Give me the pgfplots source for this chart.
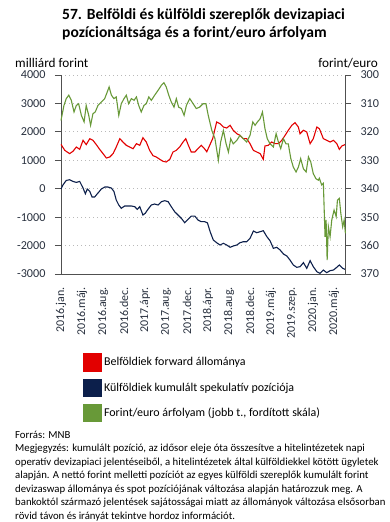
\documentclass[border=0pt]{standalone}
\usepackage{fontspec}
\setmainfont{Carlito}
\usepackage{pgfplots}
\pgfplotsset{compat=1.18}
\definecolor{myred}{RGB}{226,0,0}
\definecolor{mynavy}{RGB}{12,31,75}
\definecolor{mygreen}{RGB}{104,153,56}
\definecolor{tickc}{RGB}{40,48,62}
\definecolor{axc}{RGB}{80,80,80}
\definecolor{gridc}{RGB}{185,185,185}
\begin{document}
\begin{tikzpicture}
\path[use as bounding box] (0,0) rectangle (390bp,-522bp);
\node[anchor=base west, inner sep=0pt, font=\bfseries\fontsize{15.6}{18}\selectfont] at (62bp,-19bp) {57. Belföldi és külföldi szereplők devizapiaci};
\node[anchor=base west, inner sep=0pt, font=\bfseries\fontsize{15.6}{18}\selectfont] at (62bp,-37bp) {pozícionáltsága és a forint/euro árfolyam};
\node[anchor=base west, inner sep=0pt, font=\fontsize{13.3}{15}\selectfont] at (15bp,-67bp) {milliárd forint};
\node[anchor=base east, inner sep=0pt, font=\fontsize{13.3}{15}\selectfont] at (378bp,-67bp) {forint/euro};

\begin{axis}[
  at={(61bp,-274bp)}, anchor=south west, scale only axis,
  width=284bp, height=199bp,
  xmin=0, xmax=13.52, ymin=-3000, ymax=4000,
  axis y line*=left, axis x line*=bottom,
  axis line style={draw=axc, line width=1bp, -},
  ytick={-3000,-2000,-1000,0,1000,2000,3000,4000},
  yticklabels={-3000,-2000,-1000,0,1000,2000,3000,4000},
  yticklabel style={font=\fontsize{12.2}{14}\selectfont, color=tickc, xshift=-6bp},
  ytick style={draw=axc, line width=0.8bp},
  tick align=outside, major tick length=6bp,
  xtick={0,1,2,3,4,5,6,7,8,9,10,11,12,13},
  xticklabels={2016.jan.,2016.máj.,2016.aug.,2016.dec.,2017.ápr.,2017.aug.,2017.dec.,2018.ápr.,2018.aug.,2018.dec.,2019.máj.,2019.szep.,2020.jan.,2020.máj.},
  xtick style={draw=none},
  xticklabel style={rotate=90, anchor=east, font=\fontsize{12}{14}\selectfont, color=tickc, inner xsep=7bp},
  ymajorgrids, grid style={gridc, dash pattern=on 1bp off 3bp, line width=0.9bp},
  clip=false,
  legend style={at={(axis description cs:0.0775,-0.397)}, anchor=north west, draw=none, fill=none, inner sep=0pt, outer sep=0pt, font=\fontsize{12}{14}\selectfont, row sep=7bp, /tikz/every even column/.append style={column sep=0pt}},
  legend cell align=left,
  legend image code/.code={\fill[#1] (0bp,-8.7bp) rectangle (18bp,8.7bp);},
]
\addplot[myred, line width=1.1bp] coordinates {
(0,1560)(0.18,1350)(0.41,1235)(0.57,1316)(0.73,1467)(0.89,1386)(1.05,1703)(1.20,1552)(1.37,1760)(1.52,1703)(1.68,1552)(1.84,1386)(2.00,1235)(2.16,1080)(2.32,1115)(2.48,1235)(2.63,1467)(2.80,1760)(2.95,1643)(3.11,1527)(3.27,1467)(3.43,1408)(3.59,1584)(3.75,1527)(3.90,1795)(4.06,1643)(4.22,1350)(4.38,1162)(4.54,1115)(4.70,1035)(4.86,964)(5.01,940)(5.18,1035)(5.33,1291)(5.49,1350)(5.65,1467)(5.81,1643)(5.94,1760)(6.05,1552)(6.20,1291)(6.37,1291)(6.52,1408)(6.68,1527)(6.84,1400)(6.94,1300)(7.22,1760)(7.41,2347)(7.57,2288)(7.73,2171)(7.89,2136)(8.05,2231)(8.20,2055)(8.37,1935)(8.52,1879)(8.68,1760)(8.84,1760)(9.00,1584)(9.16,1350)(9.32,1291)(9.48,1235)(9.63,1035)(9.71,1503)(9.87,1527)(10.03,1643)(10.19,1584)(10.35,1584)(10.51,1703)(10.67,1879)(10.82,2055)(10.99,2231)(11.14,2323)(11.30,2171)(11.38,1935)(11.54,2055)(11.70,1995)(11.86,1584)(12.01,1760)(12.18,2171)(12.30,2112)(12.49,1760)(12.65,1703)(12.81,1643)(12.97,1703)(13.13,1584)(13.25,1386)(13.37,1503)(13.52,1552)
};
\addlegendentry{Belföldiek forward állománya}
\addplot[mynavy, line width=1.1bp] coordinates {
(0,-11)(0.10,140)(0.25,292)(0.41,316)(0.57,257)(0.73,222)(0.89,257)(1.05,23)(1.16,-178)(1.25,-11)(1.37,-95)(1.48,-292)(1.60,-292)(1.76,-152)(1.92,-11)(2.08,59)(2.24,59)(2.40,23)(2.52,-95)(2.63,-397)(2.75,-573)(2.87,-689)(3.03,-608)(3.19,-608)(3.35,-608)(3.51,-632)(3.63,-725)(3.75,-632)(3.90,-924)(4.01,-865)(4.14,-725)(4.30,-573)(4.46,-538)(4.62,-573)(4.78,-456)(4.94,-421)(5.10,-456)(5.25,-632)(5.41,-808)(5.57,-924)(5.73,-1042)(5.89,-1196)(6.05,-1078)(6.20,-962)(6.37,-962)(6.52,-1100)(6.68,-1160)(6.84,-1160)(6.97,-1200)(7.10,-1512)(7.25,-1804)(7.41,-1899)(7.57,-1980)(7.73,-1920)(7.89,-1980)(8.05,-2061)(8.20,-2015)(8.37,-1980)(8.52,-1899)(8.68,-1864)(8.84,-1864)(9.00,-1744)(9.16,-1487)(9.32,-1547)(9.48,-1512)(9.63,-1476)(9.80,-1687)(9.95,-1828)(10.11,-2097)(10.27,-2061)(10.43,-2155)(10.59,-2296)(10.75,-2366)(10.90,-2507)(11.06,-2683)(11.22,-2764)(11.38,-2743)(11.54,-2601)(11.70,-2800)(11.86,-2531)(12.01,-2743)(12.18,-2918)(12.33,-2977)(12.49,-2860)(12.65,-2953)(12.81,-2883)(12.97,-2860)(13.13,-2764)(13.25,-2683)(13.41,-2800)(13.52,-2835)
};
\addlegendentry{Külföldiek kumulált spekulatív pozíciója}
\addlegendimage{mygreen}
\addlegendentry{Forint/euro árfolyam (jobb t., fordított skála)}
\end{axis}

\begin{axis}[
  at={(61bp,-274bp)}, anchor=south west, scale only axis,
  width=284bp, height=199bp,
  xmin=0, xmax=13.52, ymin=300, ymax=370, y dir=reverse,
  axis y line*=right, axis x line=none,
  axis line style={draw=axc, line width=1bp, -},
  ytick={300,310,320,330,340,350,360,370},
  yticklabels={300,310,320,330,340,350,360,370},
  yticklabel style={font=\fontsize{12.2}{14}\selectfont, color=tickc, xshift=6bp},
  ytick style={draw=axc, line width=0.8bp},
  tick align=outside, major tick length=6bp,
  clip=false,
]
\addplot[mygreen, line width=1.1bp] coordinates {
(0,316)(0.14,310.7)(0.25,308.3)(0.37,307.1)(0.49,308.9)(0.62,313)(0.73,310.7)(0.84,310.1)(0.97,314.2)(1.10,316.5)(1.20,310.7)(1.32,314.2)(1.41,317.7)(1.52,313.6)(1.63,313)(1.76,310.7)(1.92,309.5)(2.08,308.3)(2.20,306)(2.29,304.2)(2.40,307.1)(2.52,308.3)(2.63,307.7)(2.75,314.2)(2.87,310.1)(3.00,308.3)(3.11,307.1)(3.22,310.1)(3.35,308.3)(3.48,308.9)(3.59,307.7)(3.70,310.7)(3.82,313)(3.95,310.7)(4.06,310.1)(4.18,307.7)(4.30,308.9)(4.46,307.1)(4.62,305.4)(4.78,303.6)(4.90,302.7)(5.01,304.2)(5.13,307.1)(5.25,309.5)(5.38,311.3)(5.49,308.3)(5.60,311.3)(5.73,311.8)(5.86,314.2)(5.97,310.7)(6.13,308.3)(6.29,310.1)(6.44,311.8)(6.60,311.3)(6.76,310.1)(6.90,310.1)(7.01,314.2)(7.18,319.5)(7.33,322.4)(7.49,330)(7.60,323.6)(7.73,319.5)(7.86,324.2)(7.97,327.1)(8.08,322.4)(8.20,324.2)(8.37,323)(8.52,321.2)(8.68,322.4)(8.84,323.6)(9.00,321.2)(9.13,316.5)(9.24,317.7)(9.35,316.5)(9.48,315.4)(9.59,313)(9.71,318.9)(9.82,322.4)(9.95,324.2)(10.11,325.3)(10.24,320.6)(10.35,323.6)(10.46,325.9)(10.59,322.4)(10.71,324.2)(10.82,324.2)(10.94,329.4)(11.06,332.4)(11.19,334.1)(11.30,332.4)(11.41,329.4)(11.54,333)(11.67,334.1)(11.78,328.8)(11.89,330.6)(12.01,334.7)(12.14,336.5)(12.25,337)(12.30,336.3)(12.41,338.7)(12.49,338.1)(12.57,356.9)(12.62,351)(12.67,365.1)(12.73,353.4)(12.81,356.9)(12.89,351)(13.00,347.5)(13.10,349.8)(13.16,344)(13.25,343.4)(13.32,348.6)(13.41,353.4)(13.48,351)(13.54,355.7)
};
\end{axis}

\node[anchor=base west, inner sep=0pt, font=\fontsize{10.8}{13}\selectfont] at (15bp,-438bp) {Forrás: MNB};
\node[anchor=base west, inner sep=0pt, font=\fontsize{10.8}{13}\selectfont] at (15bp,-451.5bp) {Megjegyzés: kumulált pozíció, az idősor eleje óta összesítve a hitelintézetek napi};
\node[anchor=base west, inner sep=0pt, font=\fontsize{10.8}{13}\selectfont] at (15bp,-465bp) {operatív devizapiaci jelentéseiből, a hitelintézetek által külföldiekkel kötött ügyletek};
\node[anchor=base west, inner sep=0pt, font=\fontsize{10.8}{13}\selectfont] at (15bp,-478.5bp) {alapján. A nettó forint melletti pozíciót az egyes külföldi szereplők kumulált forint};
\node[anchor=base west, inner sep=0pt, font=\fontsize{10.8}{13}\selectfont] at (15bp,-492bp) {devizaswap állománya és spot pozíciójának változása alapján határozzuk meg. A};
\node[anchor=base west, inner sep=0pt, font=\fontsize{10.8}{13}\selectfont] at (15bp,-505.5bp) {bankoktól származó jelentések sajátosságai miatt az állományok változása elsősorban};
\node[anchor=base west, inner sep=0pt, font=\fontsize{10.8}{13}\selectfont] at (15bp,-519bp) {rövid távon és irányát tekintve hordoz információt.};
\end{tikzpicture}
\end{document}
